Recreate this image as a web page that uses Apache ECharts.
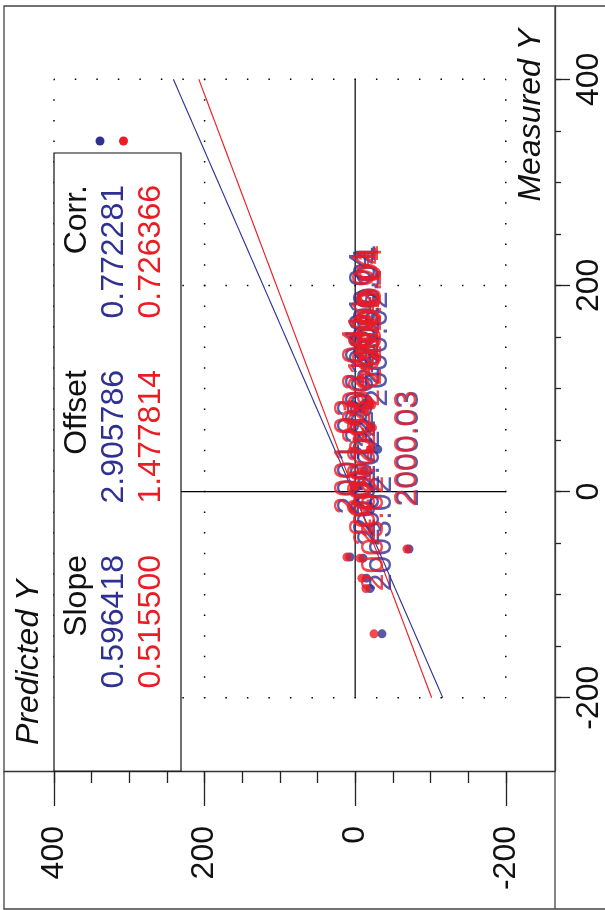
<!DOCTYPE html>
<html><head><meta charset="utf-8">
<script src="https://cdn.jsdelivr.net/npm/echarts@6/dist/echarts.min.js"></script>
<style>html,body{margin:0;padding:0;background:#fff}#c{width:605px;height:910px}</style>
</head><body><div id="c"></div><script>
// ---- data ----
const sampleNames   = ['2000.01','2000.04','2001.04','2002.01','2000.02','2001.01','2002.04','2000.03','2001.03','2002.03','2001.02','2002.02','2003.02'];
const measured      = [86, 84, 80, 62, 41, 20, 5, -55.7, -63.5, -64.6, -84, -94, -138];
const predictedBlue = [-14, -19, -9, -20, -30, -12, -4, -71.5, 6.9, -10.4, -15, -19.7, -35.6];
const predictedRed  = [-18, -22, -13, -23, -20, -8, 0, -68.8, 10.9, -6.4, -8.9, -14.3, -25];
const seriesNames   = ['Model A', 'Model B'];
const slopes        = [0.596418, 0.515500];
const offsets       = [2.905786, 1.477814];
const corrs         = [0.772281, 0.726366];
const statHeaders   = ['Slope', 'Offset', 'Corr.'];
const majorTicks    = [-200, 0, 200, 400];
const minorTicks    = [-200, -150, -100, -50, 0, 50, 100, 150, 200, 250, 300, 350, 400];
const dottedGrid    = [400, 200, -200];
const zeroLine      = 0;
const lineRange     = [-200, 400];
const axisTitles    = ['Predicted Y', 'Measured Y'];

// ---- style ----
const BLUE = '#2e3192', RED = '#ec1c24';
const colors = [BLUE, RED];
const FONT = 'Liberation Sans, Arial, sans-serif';
const predicted = [predictedBlue, predictedRed];

const chart = echarts.init(document.getElementById('c'), null, {renderer: 'canvas'});
const series = [];

// dotted reference lines
dottedGrid.forEach(v => {
  series.push({type: 'line', xAxisIndex: 0, yAxisIndex: 0, silent: true, symbol: 'none', z: 1,
    data: [[v, lineRange[0]], [v, lineRange[1]]],
    lineStyle: {color: '#000', width: 1.5, type: [1.5, 19.11], dashOffset: 0.75, cap: 'butt'}});
  series.push({type: 'line', xAxisIndex: 0, yAxisIndex: 0, silent: true, symbol: 'none', z: 1,
    data: [[lineRange[0], v], [lineRange[1], v]],
    lineStyle: {color: '#000', width: 1.5, type: [1.5, 20.01], dashOffset: 0.75, cap: 'butt'}});
});
// solid zero lines
series.push({type: 'line', silent: true, symbol: 'none', z: 1,
  data: [[zeroLine, lineRange[0]], [zeroLine, lineRange[1]]], lineStyle: {color: '#000', width: 1.2}});
series.push({type: 'line', silent: true, symbol: 'none', z: 1,
  data: [[lineRange[0], zeroLine], [lineRange[1], zeroLine]], lineStyle: {color: '#000', width: 1.2}});
// regression lines
slopes.forEach((s, i) => {
  series.push({type: 'line', name: seriesNames[i] + ' fit', silent: true, symbol: 'none', z: 2,
    data: lineRange.map(m => [s * m + offsets[i], m]),
    lineStyle: {color: colors[i], width: 1.1}});
});
// scatter points with sample labels (red drawn over blue)
predicted.forEach((arr, i) => {
  series.push({type: 'scatter', name: seriesNames[i], symbol: 'circle', symbolSize: 9, z: 3 + i,
    itemStyle: {color: colors[i]},
    data: arr.map((p, k) => ({value: [p, measured[k]], name: sampleNames[k]})),
    label: {show: true, formatter: '{b}', position: 'top', distance: 38, rotate: 90,
      align: 'left', verticalAlign: 'middle', color: colors[i], fontSize: 32, fontFamily: FONT}});
});

const axisFont = {fontSize: 32, fontFamily: FONT, color: '#111'};
const graphic = [
  // outer frame
  {type: 'rect', z: 50, silent: true, shape: {x: 4, y: 6, width: 612, height: 903},
   style: {fill: 'none', stroke: '#444', lineWidth: 1.3}},
  {type: 'line', z: 50, silent: true, shape: {x1: 555, y1: 6, x2: 555, y2: 909},
   style: {stroke: '#444', lineWidth: 1.3}},
  // stats table
  {type: 'rect', z: 60, silent: true, shape: {x: 54, y: 153, width: 127, height: 618},
   style: {fill: '#fff', stroke: '#111', lineWidth: 1.2}},
  // axis titles
  {type: 'text', z: 61, silent: true, x: 29, y: 745, rotation: Math.PI / 2,
   style: {text: axisTitles[0], fontSize: 32, fontStyle: 'italic', fontFamily: FONT, fill: '#111', align: 'left', verticalAlign: 'middle'}},
  {type: 'text', z: 61, silent: true, x: 531, y: 29, rotation: Math.PI / 2,
   style: {text: axisTitles[1], fontSize: 32, fontStyle: 'italic', fontFamily: FONT, fill: '#111', align: 'right', verticalAlign: 'middle'}}
];
const colEnds = [555, 370, 185];
const rowX = [77, 114, 151];
statHeaders.forEach((h, c) => {
  graphic.push({type: 'text', z: 61, silent: true, x: rowX[0], y: colEnds[c], rotation: Math.PI / 2,
    style: {text: h, fontSize: 32, fontFamily: FONT, fill: '#111', align: 'right', verticalAlign: 'middle'}});
});
[0, 1].forEach(i => {
  [slopes[i], offsets[i], corrs[i]].forEach((v, c) => {
    graphic.push({type: 'text', z: 61, silent: true, x: rowX[i + 1], y: colEnds[c], rotation: Math.PI / 2,
      style: {text: v.toFixed(6), fontSize: 32, fontFamily: FONT, fill: colors[i], align: 'right', verticalAlign: 'middle'}});
  });
});
// legend markers
[100, 123.5].forEach((x, i) => {
  graphic.push({type: 'circle', z: 61, silent: true, shape: {cx: x, cy: 141, r: 4.5}, style: {fill: colors[i]}});
});

const xBase = {type: 'value', gridIndex: 0, position: 'bottom', offset: 0, inverse: true, min: -265.4, max: 466.4, splitLine: {show: false}};
const yBase = {type: 'value', gridIndex: 0, position: 'right', offset: 0, min: -271.1, max: 471.1, splitLine: {show: false}};

chart.setOption({
  animation: false,
  backgroundColor: '#fff',
  grid: {left: 4, top: 6, right: 50, bottom: 139, show: false},
  xAxis: [
    Object.assign({}, xBase, {
      axisLine: {show: true, onZero: false, lineStyle: {color: '#333', width: 1.3}},
      axisTick: {show: true, length: 35, customValues: majorTicks, lineStyle: {color: '#222', width: 1.3}},
      axisLabel: Object.assign({show: true, customValues: majorTicks, rotate: 90, margin: 55}, axisFont)}),
    Object.assign({}, xBase, {
      axisLine: {show: false, onZero: false},
      axisTick: {show: true, length: 12, customValues: minorTicks, lineStyle: {color: '#222', width: 1.3}},
      axisLabel: {show: false}})
  ],
  yAxis: [
    Object.assign({}, yBase, {
      axisLine: {show: true, onZero: false, lineStyle: {color: '#333', width: 1.3}},
      axisTick: {show: true, length: 15, customValues: majorTicks, lineStyle: {color: '#222', width: 1.3}},
      axisLabel: Object.assign({show: true, customValues: majorTicks, rotate: 90, margin: 18}, axisFont)}),
    Object.assign({}, yBase, {
      axisLine: {show: false, onZero: false},
      axisTick: {show: true, length: 6, customValues: minorTicks, lineStyle: {color: '#222', width: 1.3}},
      axisLabel: {show: false}})
  ],
  series: series,
  graphic: graphic
});
</script></body></html>
